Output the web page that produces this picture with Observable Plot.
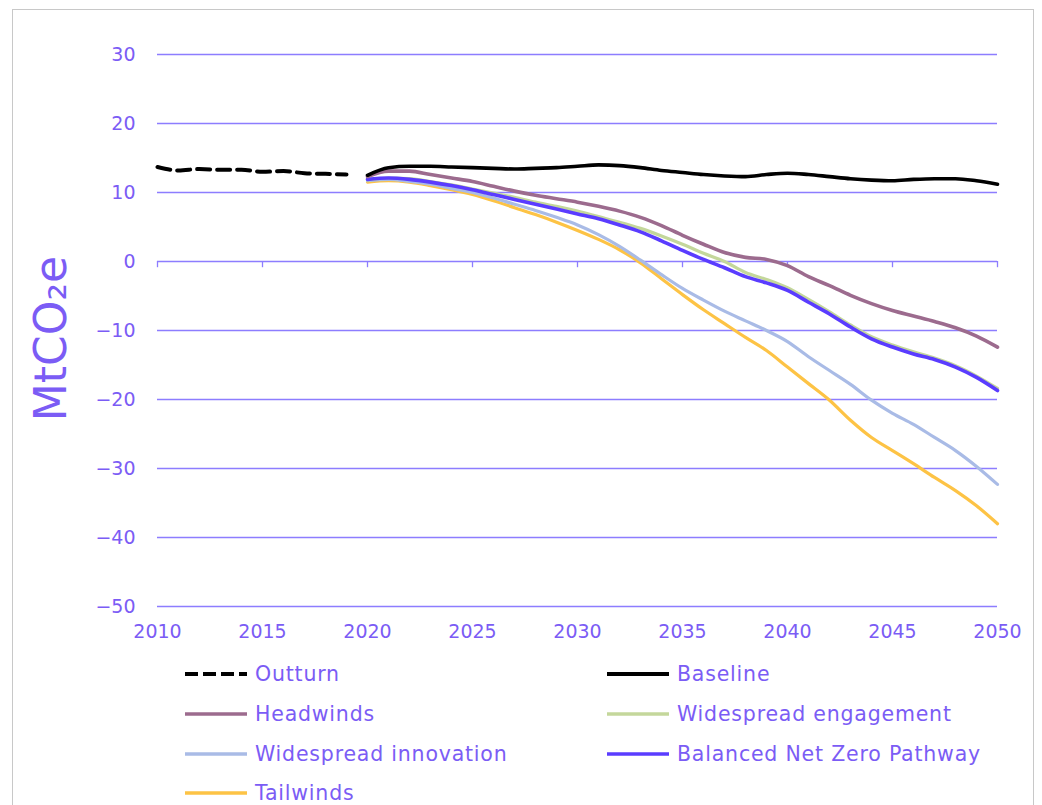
<!DOCTYPE html>
<html>
<head>
<meta charset="utf-8">
<script src="https://cdn.jsdelivr.net/npm/d3@7"></script>
<script src="https://cdn.jsdelivr.net/npm/@observablehq/plot@0.6"></script>
<style>
  html, body { margin: 0; padding: 0; background: #fff; }
  body { width: 1042px; height: 805px; position: relative; overflow: hidden; font-family: "DejaVu Sans", sans-serif; }
  #frame { position: absolute; left: 12px; top: 9px; width: 1020px; height: 820px; border: 1px solid #c8c8c8; }
  #chart { position: absolute; left: 0; top: 0; }
  #legend { position: absolute; left: 0; top: 655px; width: 1042px; }
  .item { position: absolute; height: 38px; display: flex; align-items: center; font-size: 20.5px; color: #7b5cf5; letter-spacing: 0.8px; white-space: nowrap; }
  .item svg { margin-right: 8px; }
</style>
</head>
<body>
<div id="frame"></div>
<div id="chart"></div>
<div id="legend"></div>
<script>
const outturnYears = [2010, 2011, 2012, 2013, 2014, 2015, 2016, 2017, 2018, 2019];
const outturn = [13.7, 13.2, 13.4, 13.3, 13.3, 13.0, 13.1, 12.8, 12.7, 12.6];

const scenarioYears = [2020, 2021, 2022, 2023, 2024, 2025, 2026, 2027, 2028, 2029, 2030,
  2031, 2032, 2033, 2034, 2035, 2036, 2037, 2038, 2039, 2040,
  2041, 2042, 2043, 2044, 2045, 2046, 2047, 2048, 2049, 2050];
const baseline = [12.5, 13.6, 13.8, 13.8, 13.7, 13.6, 13.5, 13.4, 13.5, 13.6, 13.8,
  14.0, 13.9, 13.6, 13.2, 12.9, 12.6, 12.4, 12.3, 12.6, 12.8,
  12.6, 12.3, 12.0, 11.8, 11.7, 11.9, 12.0, 12.0, 11.7, 11.2];
const headwinds = [12.3, 13.1, 13.1, 12.6, 12.1, 11.6, 10.9, 10.2, 9.6, 9.1, 8.6,
  8.0, 7.3, 6.4, 5.2, 3.8, 2.5, 1.3, 0.6, 0.3, -0.6,
  -2.2, -3.5, -4.9, -6.1, -7.1, -7.9, -8.7, -9.6, -10.8, -12.4];
const engagement = [11.8, 12.1, 12.0, 11.6, 11.1, 10.5, 9.9, 9.3, 8.6, 8.0, 7.3,
  6.5, 5.7, 4.8, 3.7, 2.5, 1.2, 0.0, -1.6, -2.6, -3.8,
  -5.5, -7.3, -9.2, -10.9, -12.1, -13.1, -14.0, -15.1, -16.6, -18.4];
const innovation = [11.7, 11.9, 11.6, 11.2, 10.6, 10.0, 9.2, 8.3, 7.4, 6.4, 5.3,
  3.9, 2.2, 0.2, -1.9, -3.9, -5.6, -7.2, -8.6, -10.0, -11.6,
  -13.8, -15.8, -17.8, -20.1, -22.0, -23.6, -25.5, -27.4, -29.7, -32.3];
const balanced = [11.9, 12.1, 11.9, 11.5, 11.0, 10.4, 9.7, 9.0, 8.3, 7.6, 6.9,
  6.2, 5.3, 4.3, 3.0, 1.6, 0.3, -0.9, -2.2, -3.1, -4.2,
  -5.9, -7.6, -9.5, -11.2, -12.4, -13.4, -14.2, -15.3, -16.8, -18.7];
const tailwinds = [11.5, 11.7, 11.5, 11.0, 10.4, 9.7, 8.8, 7.8, 6.8, 5.7, 4.5,
  3.2, 1.7, -0.2, -2.5, -4.8, -7.0, -9.0, -11.0, -12.9, -15.3,
  -17.7, -20.1, -23.0, -25.5, -27.4, -29.3, -31.3, -33.2, -35.4, -38.0];

const xTicks = [2010, 2015, 2020, 2025, 2030, 2035, 2040, 2045, 2050];
const yTicks = [30, 20, 10, 0, -10, -20, -30, -40, -50];

const seriesNames = ["Outturn", "Baseline", "Headwinds", "Widespread engagement", "Widespread innovation", "Balanced Net Zero Pathway", "Tailwinds"];
const seriesColors = ["#000000", "#000000", "#9c6b8e", "#c4d79b", "#a9bbe6", "#5a3cff", "#fdc345"];

const textColor = "#7b5cf5";
const gridColor = "#8d7dff";

const toRows = (ys, vs) => ys.map((y, i) => ({year: y, value: vs[i]}));
const colorOf = name => seriesColors[seriesNames.indexOf(name)];

const scen = [
  ["Tailwinds", tailwinds, 3.2],
  ["Widespread innovation", innovation, 3.2],
  ["Widespread engagement", engagement, 3.2],
  ["Balanced Net Zero Pathway", balanced, 3.6],
  ["Headwinds", headwinds, 3.6],
  ["Baseline", baseline, 3.6]
];

const marks = [
  Plot.ruleY(yTicks, {stroke: gridColor, strokeWidth: 1.3}),
  Plot.ruleX(xTicks, {y1: 0, y2: -0.9, stroke: gridColor, strokeWidth: 1.3}),
  Plot.axisY({ticks: yTicks, tickSize: 0, tickPadding: 22, fontSize: 19, color: textColor, label: null}),
  Plot.axisX({ticks: xTicks, tickSize: 0, tickPadding: 18, fontSize: 19, color: textColor, label: null, tickFormat: d => String(d)}),
  Plot.text(["MtCO₂e"], {frameAnchor: "left", textAnchor: "middle", dx: -106, dy: 8, rotate: -90, fontSize: 44, fill: textColor, text: d => d}),
  Plot.line(toRows(outturnYears, outturn), {x: "year", y: "value", stroke: colorOf("Outturn"), strokeWidth: 4, strokeDasharray: "13,7", curve: "monotone-x"})
];
for (const [name, vals, w] of scen) {
  marks.push(Plot.line(toRows(scenarioYears, vals), {x: "year", y: "value", stroke: colorOf(name), strokeWidth: w, curve: "monotone-x"}));
}

const chart = Plot.plot({
  width: 1042,
  height: 660,
  marginLeft: 157,
  marginRight: 45,
  marginTop: 54,
  marginBottom: 54,
  style: {fontFamily: "'DejaVu Sans', sans-serif", background: "transparent"},
  x: {domain: [2010, 2050]},
  y: {domain: [-50, 30]},
  marks
});
document.getElementById("chart").appendChild(chart);

// legend
const legendPos = [
  ["Outturn", 185, 0], ["Baseline", 607, 0],
  ["Headwinds", 185, 40], ["Widespread engagement", 607, 40],
  ["Widespread innovation", 185, 80], ["Balanced Net Zero Pathway", 607, 80],
  ["Tailwinds", 185, 119]
];
const legend = document.getElementById("legend");
for (const [name, left, top] of legendPos) {
  const div = document.createElement("div");
  div.className = "item";
  div.style.left = left + "px";
  div.style.top = top + "px";
  const c = colorOf(name);
  const dash = name === "Outturn" ? ' stroke-dasharray="13,5"' : "";
  const w = name === "Outturn" || name === "Baseline" ? 4 : 3.5;
  div.innerHTML = `<svg width="62" height="10"><line x1="0" y1="5" x2="62" y2="5" stroke="${c}" stroke-width="${w}"${dash}/></svg><span>${name}</span>`;
  legend.appendChild(div);
}
</script>
</body>
</html>
